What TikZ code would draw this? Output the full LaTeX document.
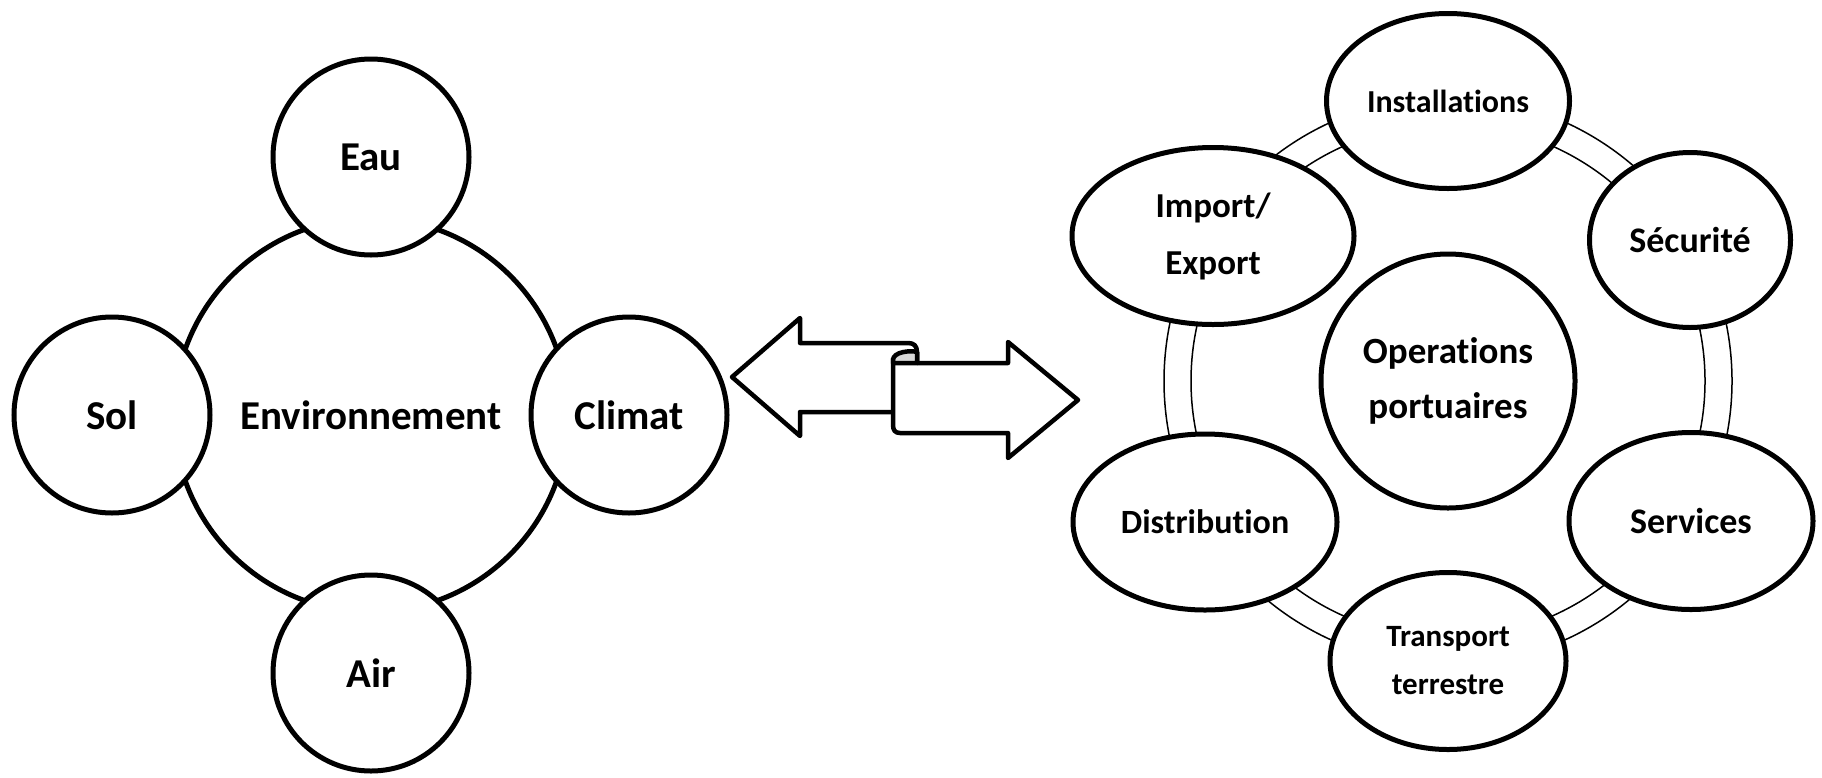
\documentclass[tikz,border=0pt]{standalone}
\usepackage{fontspec}
\setmainfont{Carlito}[Ligatures=NoCommon]
\usetikzlibrary{shapes.geometric}

\newcommand{\fsz}[2]{\fontsize{#1}{#2}\selectfont\bfseries}

\tikzset{
  envcircle/.style={circle,draw,line width=5pt,fill=white,inner sep=0pt,minimum size=196pt,font=\fsz{41}{49}},
  portnode/.style={ellipse,draw,line width=5pt,fill=white,inner sep=0pt,align=center},
  ringline/.style={line width=1.5pt},
  bigarrow/.style={line width=4.5pt,line join=round,fill=white},
}

\begin{document}
\begin{tikzpicture}[x=1pt,y=-1pt]
\useasboundingbox (0,0) rectangle (1822,777);

% Environnement
\node[envcircle,minimum size=394pt,fill=none] (env) at (371,415) {Environnement};
\node[envcircle] (eau) at (371,157) {Eau};
\node[envcircle] (sol) at (112,415) {Sol};
\node[envcircle] (climat) at (629,415) {Climat};
\node[envcircle] (air) at (371,673) {Air};

% double arrow
\draw[bigarrow] (893,412) -- (800,412) -- (800,436) -- (732,377) -- (800,318) -- (800,343) -- (908,343)
  .. controls (914,343) and (917,346) .. (917,352) -- (917,363);
\draw[bigarrow] (917,363) -- (1008,363) -- (1008,342) -- (1078,400) -- (1008,458) -- (1008,433) -- (900,433)
  .. controls (895,433) and (893,430) .. (893,425) -- (893,358);
\draw[line width=4.5pt,line join=round,fill=gray!30] (893,360) .. controls (893,352) and (910,350) .. (917,352) -- (917,363) -- (893,363) -- cycle;

% Operations portuaires
\node[portnode,circle,minimum size=254pt,font=\fsz{37}{55}] (ops) at (1448,381) {Operations\\portuaires};
\draw[ringline] (ops.center) circle[radius=257pt];
\draw[ringline] (ops.center) circle[radius=284pt];

\node[portnode,minimum width=243pt,minimum height=175pt,font=\fsz{32}{40}] (inst) at (1448,101) {Installations};
\node[portnode,minimum width=282pt,minimum height=177pt,font=\fsz{35}{57}] (impexp) at (1213,236) {Import/\\Export};
\node[portnode,minimum width=201pt,minimum height=175pt,font=\fsz{36}{44}] (secu) at (1690,240) {Sécurité};
\node[portnode,minimum width=244pt,minimum height=177pt,font=\fsz{36}{44}] (serv) at (1691,521) {Services};
\node[portnode,minimum width=236pt,minimum height=177pt,font=\fsz{31}{48}] (transp) at (1448,661) {Transport\\terrestre};
\node[portnode,minimum width=264pt,minimum height=176pt,font=\fsz{34}{42}] (distr) at (1205,522) {Distribution};

\end{tikzpicture}
\end{document}
